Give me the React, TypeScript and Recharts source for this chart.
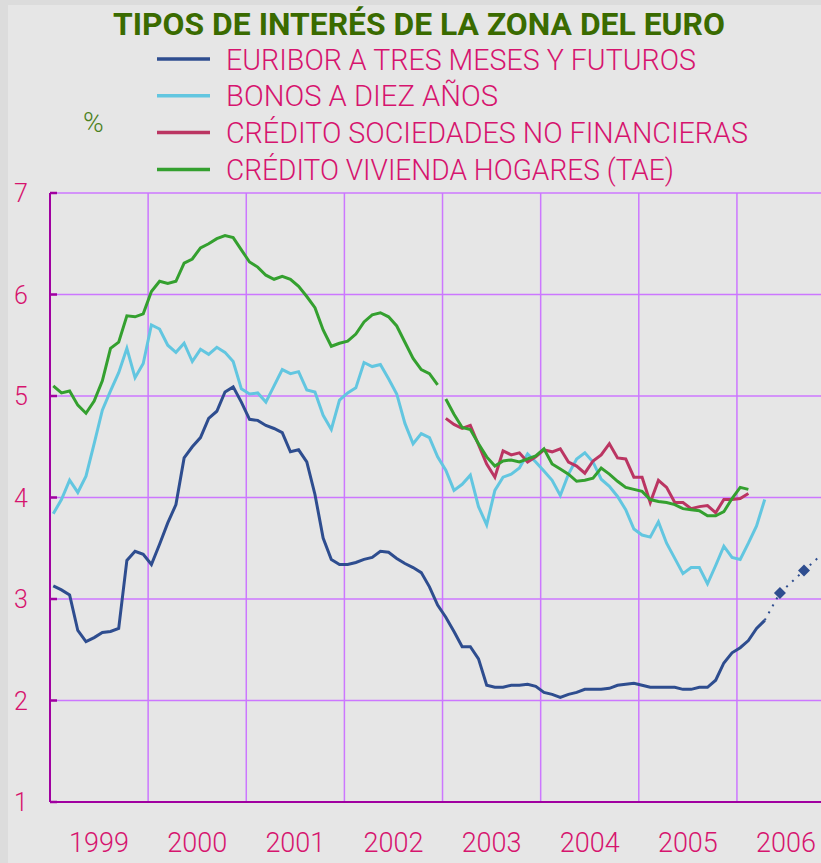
import React from "react";
import { LineChart, Line, XAxis, YAxis, CartesianGrid, Legend } from "recharts";

// Monthly values, Jan 1999 onward
const euribor = [
  3.13, 3.09, 3.04, 2.69, 2.58, 2.62, 2.67, 2.68, 2.71, 3.38, 3.47, 3.44,
  3.34, 3.54, 3.75, 3.93, 4.39, 4.5, 4.59, 4.78, 4.85, 5.04, 5.09, 4.94,
  4.77, 4.76, 4.71, 4.68, 4.64, 4.45, 4.47, 4.35, 4.03, 3.6, 3.39, 3.34,
  3.34, 3.36, 3.39, 3.41, 3.47, 3.46, 3.4, 3.35, 3.31, 3.26, 3.12, 2.94,
  2.82, 2.68, 2.53, 2.53, 2.41, 2.15, 2.13, 2.13, 2.15, 2.15, 2.16, 2.14,
  2.08, 2.06, 2.03, 2.06, 2.08, 2.11, 2.11, 2.11, 2.12, 2.15, 2.16, 2.17,
  2.15, 2.13, 2.13, 2.13, 2.13, 2.11, 2.11, 2.13, 2.13, 2.2, 2.37, 2.47,
  2.52, 2.59, 2.71, 2.79,
];

const bonos = [
  3.84, 3.98, 4.17, 4.05, 4.21, 4.53, 4.86, 5.05, 5.23, 5.47, 5.18, 5.32,
  5.7, 5.66, 5.5, 5.43, 5.52, 5.34, 5.46, 5.41, 5.48, 5.43, 5.34, 5.07,
  5.02, 5.03, 4.94, 5.1, 5.26, 5.22, 5.24, 5.06, 5.04, 4.81, 4.67, 4.96,
  5.03, 5.08, 5.33, 5.29, 5.31, 5.17, 5.02, 4.73, 4.53, 4.63, 4.59, 4.4,
  4.27, 4.07, 4.13, 4.22, 3.91, 3.73, 4.07, 4.2, 4.23, 4.29, 4.43, 4.35,
  4.26, 4.17, 4.02, 4.23, 4.38, 4.44, 4.35, 4.18, 4.11, 4.01, 3.88, 3.69,
  3.63, 3.61, 3.76, 3.55, 3.4, 3.25, 3.31, 3.31, 3.15, 3.33, 3.52, 3.41,
  3.39, 3.55, 3.72, 3.98,
];

// new statistics start in Jan 2003 (month 48)
const NEW_START = 48;
const sociedades = [
  4.78, 4.72, 4.68, 4.71, 4.52, 4.33, 4.2, 4.46, 4.42, 4.44, 4.35, 4.4,
  4.47, 4.45, 4.48, 4.35, 4.31, 4.24, 4.36, 4.42, 4.53, 4.39, 4.38, 4.2,
  4.2, 3.95, 4.17, 4.1, 3.95, 3.95, 3.89, 3.91, 3.92, 3.85, 3.98, 3.98,
  3.99, 4.04,
];

const viviendaOld = [
  5.1, 5.03, 5.05, 4.91, 4.83, 4.95, 5.15, 5.47, 5.53, 5.79, 5.78, 5.81,
  6.03, 6.13, 6.11, 6.13, 6.31, 6.35, 6.46, 6.5, 6.55, 6.58, 6.56, 6.44,
  6.32, 6.27, 6.19, 6.15, 6.18, 6.15, 6.08, 5.98, 5.87, 5.65, 5.49, 5.52,
  5.54, 5.61, 5.73, 5.8, 5.82, 5.78, 5.69, 5.53, 5.37, 5.26, 5.22, 5.11,
];

const viviendaNew = [
  4.97, 4.82, 4.69, 4.67, 4.53, 4.4, 4.31, 4.36, 4.37, 4.35, 4.38, 4.41,
  4.48, 4.33, 4.28, 4.23, 4.16, 4.17, 4.19, 4.29, 4.23, 4.16, 4.1, 4.08,
  4.06, 3.98, 3.96, 3.95, 3.93, 3.89, 3.88, 3.87, 3.82, 3.82, 3.86, 3.99,
  4.1, 4.08,
];

// futures (month position, value); first point joins the last euribor value
const futurosT = [87.4, 89.26, 92.2, 95.2];
const futurosV = [2.79, 3.06, 3.28, 3.5];
const futurosMarker = [false, true, true, false];

const years = ["1999", "2000", "2001", "2002", "2003", "2004", "2005", "2006"];
const yTicks = [1, 2, 3, 4, 5, 6, 7];
const X_MAX = 94.28;

const names = [
  "EURIBOR A TRES MESES Y FUTUROS",
  "BONOS A DIEZ AÑOS",
  "CRÉDITO SOCIEDADES NO FINANCIERAS",
  "CRÉDITO VIVIENDA HOGARES (TAE)",
];
const colors = ["#2e4d8f", "#62c6e0", "#bb3562", "#34a02f"];
const legendWidths = [470, 272, 522, 448];

const PINK = "#d6146e";
const GRID = "#cc77ff";
const AXIS = "#a000a0";
const FONT = "Roboto, 'Liberation Sans', sans-serif";

const rows: any[] = euribor.map((e, i) => ({
  t: i + 0.4,
  euribor: e,
  bonos: bonos[i],
  sociedades: i >= NEW_START ? sociedades[i - NEW_START] : null,
  viviendaOld: i < NEW_START ? viviendaOld[i] : null,
  viviendaNew: i >= NEW_START ? viviendaNew[i - NEW_START] ?? null : null,
  futuros: null as number | null,
  marker: false,
}));
rows[rows.length - 1].futuros = futurosV[0];
futurosT.slice(1).forEach((t, k) => {
  rows.push({ t, futuros: futurosV[k + 1], marker: futurosMarker[k + 1] });
});

const yearStarts = years.map((_, i) => i * 12);
const yearMids = years.map((_, i) => i * 12 + 6);

const renderLegend = (props: any) => {
  const items = (props.payload || [])
    .filter((p: any) => names.includes(p.value))
    .sort((a: any, b: any) => names.indexOf(a.value) - names.indexOf(b.value));
  return (
    <svg width={821} height={190} style={{ display: "block" }}>
      <text
        x={113}
        y={35}
        textLength={612}
        lengthAdjust="spacingAndGlyphs"
        fontFamily={FONT}
        fontWeight={700}
        fontSize={31}
        fill="#3a6b00"
      >
        TIPOS DE INTERÉS DE LA ZONA DEL EURO
      </text>
      {items.map((p: any) => {
        const k = names.indexOf(p.value);
        return (
          <g key={p.value}>
            <line x1={157} x2={210} y1={59 + k * 36.8} y2={59 + k * 36.8} stroke={p.color} strokeWidth={3.5} />
            <text
              x={226}
              y={69.5 + k * 36.8}
              textLength={legendWidths[k]}
              lengthAdjust="spacingAndGlyphs"
              fontFamily={FONT}
              fontWeight={300}
              fontSize={29}
              fill={PINK}
            >
              {p.value}
            </text>
          </g>
        );
      })}
      <text x={83} y={131.5} fontFamily={FONT} fontWeight={300} fontSize={28} fill="#4a8020">
        %
      </text>
    </svg>
  );
};

const YTick = ({ y, payload }: any) => (
  <text x={21} y={y} dy={9} textAnchor="middle" fontFamily={FONT} fontWeight={300} fontSize={25} fill={PINK}>
    {payload.value}
  </text>
);

const XTick = ({ x, y, index }: any) => (
  <text x={x} y={y} dy={37} textAnchor="middle" fontFamily={FONT} fontWeight={300} fontSize={27} fill={PINK}>
    {years[index] ?? ""}
  </text>
);

const Diamond = (props: any) => {
  const { cx, cy, payload, index } = props;
  if (!payload || !payload.marker || cx == null || cy == null) return <g key={`d${index}`} />;
  return (
    <polygon
      key={`d${index}`}
      points={`${cx},${cy - 6} ${cx + 6},${cy} ${cx},${cy + 6} ${cx - 6},${cy}`}
      fill={colors[0]}
    />
  );
};

// vertical grid at year boundaries, placed through the x axis scale
const yearGrid = (args: any) => {
  const axis = args?.xAxis;
  const scale = axis?.scale;
  if (typeof scale === "function") return yearStarts.map((v) => scale(v));
  const off = args?.offset;
  if (off) return yearStarts.map((v) => off.left + (v / X_MAX) * off.width);
  return [];
};

export default function App() {
  return (
    <div style={{ position: "absolute", left: 0, top: 0, width: 821, height: 863, background: "#dcdcdc", overflow: "hidden" }}>
      <div style={{ position: "absolute", left: 8, top: 5, right: 0, bottom: 0, background: "#e6e6e6" }} />
      <div style={{ position: "absolute", left: 0, top: 0 }}>
        <LineChart width={821} height={863} data={rows} margin={{ top: 193, right: 0, bottom: 0, left: 0 }}>
          <CartesianGrid xAxisId="grid" stroke={GRID} strokeWidth={1.5} verticalCoordinatesGenerator={yearGrid} />
          <XAxis
            xAxisId="grid"
            dataKey="t"
            type="number"
            domain={[0, X_MAX]}
            allowDataOverflow
            ticks={yearStarts}
            tick={false}
            tickSize={-5}
            tickLine={{ stroke: AXIS, strokeWidth: 1.5 }}
            axisLine={{ stroke: AXIS, strokeWidth: 2 }}
            height={1}
          />
          <XAxis
            xAxisId="year"
            dataKey="t"
            type="number"
            domain={[0, X_MAX]}
            allowDataOverflow
            ticks={yearMids}
            tick={<XTick />}
            tickLine={false}
            axisLine={false}
            tickSize={0}
            tickMargin={12}
            height={60}
          />
          <YAxis
            domain={[1, 7]}
            ticks={yTicks}
            width={50}
            allowDataOverflow
            axisLine={{ stroke: AXIS, strokeWidth: 2 }}
            tickLine={{ stroke: AXIS, strokeWidth: 2.5 }}
            tickSize={-7}
            tick={<YTick />}
          />
          <Legend
            layout="vertical"
            verticalAlign="middle"
            align="center"
            content={renderLegend}
            wrapperStyle={{ top: 0, left: 0, width: 821, height: 190 }}
          />
          <Line xAxisId="grid" dataKey="euribor" name={names[0]} stroke={colors[0]} strokeWidth={3} dot={false} isAnimationActive={false} />
          <Line xAxisId="grid" dataKey="bonos" name={names[1]} stroke={colors[1]} strokeWidth={3} dot={false} isAnimationActive={false} />
          <Line xAxisId="grid" dataKey="sociedades" name={names[2]} stroke={colors[2]} strokeWidth={3} dot={false} isAnimationActive={false} />
          <Line xAxisId="grid" dataKey="viviendaOld" name={names[3]} stroke={colors[3]} strokeWidth={3} dot={false} isAnimationActive={false} />
          <Line xAxisId="grid" dataKey="viviendaNew" name="viviendaNew" legendType="none" stroke={colors[3]} strokeWidth={3} dot={false} isAnimationActive={false} />
          <Line
            xAxisId="grid"
            dataKey="futuros"
            name="futuros"
            legendType="none"
            stroke={colors[0]}
            strokeWidth={2}
            strokeDasharray="2 6"
            dot={Diamond}
            isAnimationActive={false}
          />
        </LineChart>
      </div>
    </div>
  );
}
